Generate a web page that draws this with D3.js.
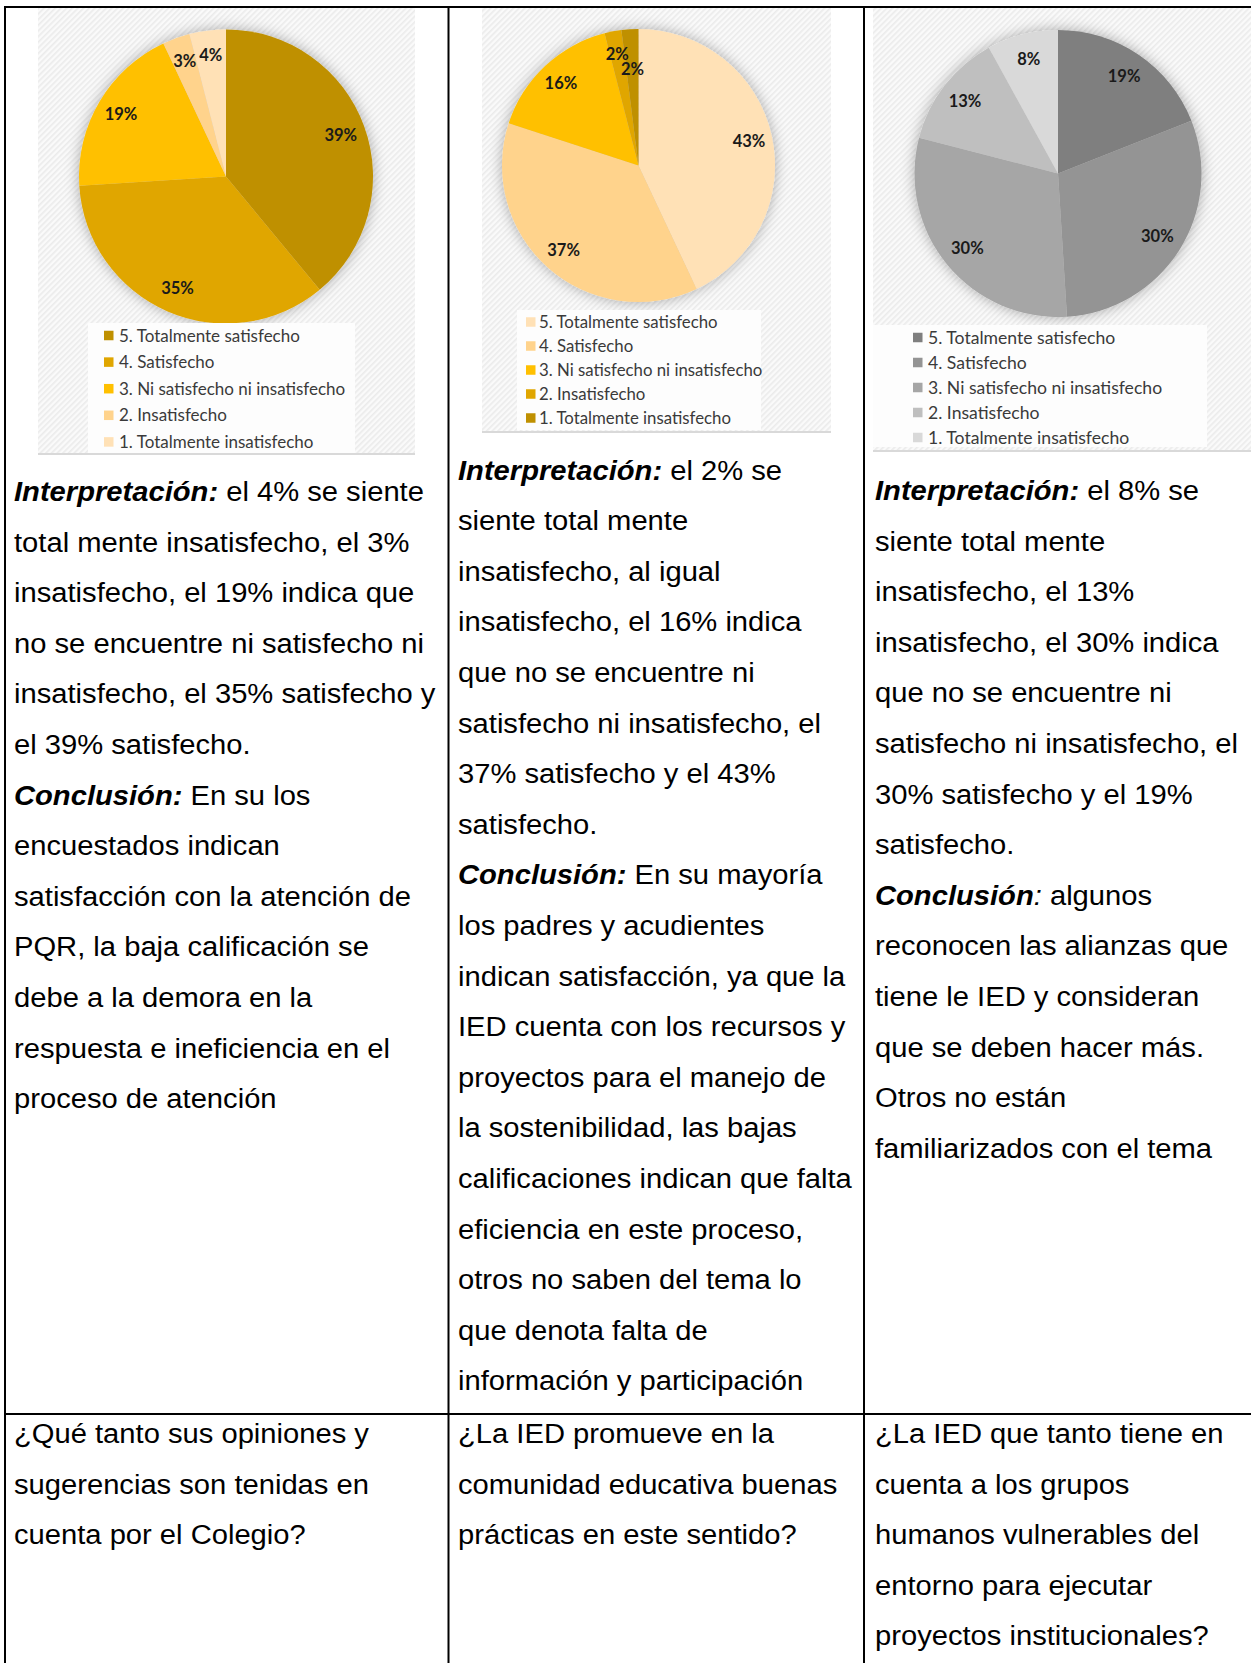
<!DOCTYPE html>
<html><head><meta charset="utf-8">
<script src="https://cdn.jsdelivr.net/npm/d3@7"></script>
<style>body{margin:0;background:#fff}svg{display:block}text{white-space:pre}</style>
</head><body>
<script>
// ---------- DATA ----------
const categories = ["5. Totalmente satisfecho", "4. Satisfecho", "3. Ni satisfecho ni insatisfecho", "2. Insatisfecho", "1. Totalmente insatisfecho"];
const values1 = [39, 35, 19, 3, 4];
const values2 = [43, 37, 16, 2, 2];
const values3 = [19, 30, 30, 13, 8];
const colors1 = ["#BF9000", "#E0A600", "#FFC000", "#FFD38C", "#FFE1B6"];
const colors2 = ["#FFE1B6", "#FFD38C", "#FFC000", "#E0A600", "#BF9000"];
const colors3 = ["#7F7F7F", "#949494", "#A6A6A6", "#BFBFBF", "#D9D9D9"];

const text1 = [
  "**Interpretación:** el 4% se siente",
  "total mente insatisfecho, el 3%",
  "insatisfecho, el 19% indica que",
  "no se encuentre ni satisfecho ni",
  "insatisfecho, el 35% satisfecho y",
  "el 39% satisfecho.",
  "**Conclusión:** En su los",
  "encuestados indican",
  "satisfacción con la atención de",
  "PQR, la baja calificación se",
  "debe a la demora en la",
  "respuesta e ineficiencia en el",
  "proceso de atención"
];
const text2 = [
  "**Interpretación:** el 2% se",
  "siente total mente",
  "insatisfecho, al igual",
  "insatisfecho, el 16% indica",
  "que no se encuentre ni",
  "satisfecho ni insatisfecho, el",
  "37% satisfecho y el 43%",
  "satisfecho.",
  "**Conclusión:** En su mayoría",
  "los padres y acudientes",
  "indican satisfacción, ya que la",
  "IED cuenta con los recursos y",
  "proyectos para el manejo de",
  "la sostenibilidad, las bajas",
  "calificaciones indican que falta",
  "eficiencia en este proceso,",
  "otros no saben del tema lo",
  "que denota falta de",
  "información y participación"
];
const text3 = [
  "**Interpretación:** el 8% se",
  "siente total mente",
  "insatisfecho, el 13%",
  "insatisfecho, el 30% indica",
  "que no se encuentre ni",
  "satisfecho ni insatisfecho, el",
  "30% satisfecho y el 19%",
  "satisfecho.",
  "**Conclusión**_:_ algunos",
  "reconocen las alianzas que",
  "tiene le IED y consideran",
  "que se deben hacer más.",
  "Otros no están",
  "familiarizados con el tema"
];
const question1 = ["¿Qué tanto sus opiniones y", "sugerencias son tenidas en", "cuenta por el Colegio?"];
const question2 = ["¿La IED promueve en la", "comunidad educativa buenas", "prácticas en este sentido?"];
const question3 = ["¿La IED que tanto tiene en", "cuenta a los grupos", "humanos vulnerables del", "entorno para ejecutar", "proyectos institucionales?"];

// ---------- SETUP ----------
const W = 1251, H = 1663;
const svg = d3.select("body").append("svg").attr("width", W).attr("height", H);
const defs = svg.append("defs");
const pat = defs.append("pattern").attr("id", "hatch").attr("width", 4).attr("height", 4)
  .attr("patternUnits", "userSpaceOnUse").attr("patternTransform", "rotate(45)");
pat.append("rect").attr("width", 4).attr("height", 4).attr("fill", "#fafafa");
pat.append("rect").attr("width", 1.6).attr("height", 4).attr("fill", "#ebebeb");
const filt = defs.append("filter").attr("id", "shadow").attr("x", "-25%").attr("y", "-25%").attr("width", "150%").attr("height", "150%");
filt.append("feDropShadow").attr("dx", 0).attr("dy", 0).attr("stdDeviation", 7)
  .attr("flood-color", "#000").attr("flood-opacity", 0.32);

const chartFont = "Lato, 'Noto Sans', sans-serif";

function drawPie(cfg) {
  const g = svg.append("g");
  g.append("rect").attr("x", cfg.area.x).attr("y", cfg.area.y).attr("width", cfg.area.w).attr("height", cfg.area.h)
    .attr("fill", "url(#hatch)");
  g.append("line").attr("x1", cfg.area.x).attr("x2", cfg.area.x + cfg.area.w)
    .attr("y1", cfg.area.y + cfg.area.h).attr("y2", cfg.area.y + cfg.area.h)
    .attr("stroke", "#d9d9d9").attr("stroke-width", 2);

  const data = cfg.values.map((v, i) => ({ v, i }));
  const arcs = d3.pie().sort(null).value(d => d.v)(data);
  const arc = d3.arc().innerRadius(0).outerRadius(cfg.r);
  const pg = g.append("g").attr("transform", `translate(${cfg.cx},${cfg.cy})`);
  const sh = pg.append("g").attr("filter", "url(#shadow)");
  sh.selectAll("path").data(arcs).join("path")
    .attr("d", arc).attr("fill", d => cfg.colors[d.data.i]);

  // labels with simple overlap avoidance (move inward)
  const lr = cfg.r * cfg.labelK;
  const placed = [];
  arcs.forEach(d => {
    const a = (d.startAngle + d.endAngle) / 2;
    const t = pg.append("text").text(d.data.v + "%")
      .attr("font-family", chartFont).attr("font-weight", "bold").attr("font-size", cfg.labelSize)
      .attr("fill", "#1a1a1a").attr("text-anchor", "middle").attr("dy", "0.35em");
    const w = t.node().getComputedTextLength(), h = cfg.labelSize * 0.9;
    let rr = lr, x, y;
    for (let k = 0; k < 80; k++) {
      x = Math.sin(a) * rr; y = -Math.cos(a) * rr;
      const hit = placed.some(p => Math.abs(p.x - x) < (p.w + w) / 2 && Math.abs(p.y - y) < (p.h + h) / 2);
      if (!hit) break;
      rr -= 1;
    }
    t.attr("x", x).attr("y", y);
    placed.push({ x, y, w, h });
  });

  // legend
  const L = cfg.legend;
  g.append("rect").attr("x", L.x).attr("y", L.y).attr("width", L.w).attr("height", L.h).attr("fill", "#fdfdfd");
  categories.forEach((c, i) => {
    const yy = L.y0 + i * L.dy;
    g.append("rect").attr("x", L.sx).attr("y", yy - L.sq / 2).attr("width", L.sq).attr("height", L.sq)
      .attr("fill", cfg.colors[i]);
    g.append("text").attr("x", L.tx).attr("y", yy).attr("dy", "0.36em").text(c)
      .attr("font-family", chartFont).attr("font-size", L.fs).attr("fill", "#3a3a3a");
  });
}

drawPie({
  area: { x: 38, y: 8, w: 377, h: 446 }, cx: 226, cy: 176.5, r: 147,
  values: values1, colors: colors1, labelK: 0.83, labelSize: 16.5,
  legend: { x: 88, y: 323, w: 267, h: 130, y0: 335.5, dy: 26.6, sx: 104, sq: 9.5, tx: 119, fs: 17 }
});
drawPie({
  area: { x: 482, y: 8, w: 349, h: 424 }, cx: 638.5, cy: 165.5, r: 136.5,
  values: values2, colors: colors2, labelK: 0.83, labelSize: 16.5,
  legend: { x: 517, y: 310, w: 244, h: 120, y0: 322, dy: 24, sx: 526, sq: 9.5, tx: 539, fs: 16.8 }
});
drawPie({
  area: { x: 873, y: 8, w: 378, h: 443 }, cx: 1058, cy: 173.5, r: 143.5,
  values: values3, colors: colors3, labelK: 0.82, labelSize: 16.5,
  legend: { x: 873, y: 325, w: 334, h: 122, y0: 337.5, dy: 25, sx: 913, sq: 9.5, tx: 928, fs: 17.6 }
});

// ---------- TABLE TEXT ----------
function segments(line) {
  const out = [];
  const re = /\*\*(.+?)\*\*|_(.+?)_|([^*_]+)/g;
  let m;
  while ((m = re.exec(line)) !== null) {
    if (m[1] !== undefined) out.push({ t: m[1], b: true, i: true });
    else if (m[2] !== undefined) out.push({ t: m[2], b: false, i: true });
    else out.push({ t: m[3], b: false, i: false });
  }
  return out;
}
const bodyFont = "'Liberation Sans', Arial, sans-serif";
function drawLines(lines, x, y0, dy) {
  lines.forEach((line, k) => {
    const t = svg.append("text")
      .attr("transform", `translate(${x},${y0 + k * dy}) scale(1.08,1)`)
      .attr("font-family", bodyFont).attr("font-size", 27).attr("fill", "#000");
    segments(line).forEach(s => {
      t.append("tspan").text(s.t)
        .attr("font-weight", s.b ? "bold" : null)
        .attr("font-style", s.i ? "italic" : null);
    });
  });
}
const LH = 50.6;
drawLines(text1, 14, 501, LH);
drawLines(text2, 458, 479.5, LH);
drawLines(text3, 875, 500, LH);
drawLines(question1, 14, 1443, LH);
drawLines(question2, 458, 1443, LH);
drawLines(question3, 875, 1443, LH);

// ---------- TABLE GRID ----------
const grid = svg.append("g").attr("stroke", "#000").attr("stroke-width", 2);
grid.append("line").attr("x1", 4).attr("x2", W).attr("y1", 7).attr("y2", 7);
grid.append("line").attr("x1", 5).attr("x2", 5).attr("y1", 6).attr("y2", H);
grid.append("line").attr("x1", 448.5).attr("x2", 448.5).attr("y1", 6).attr("y2", H);
grid.append("line").attr("x1", 864).attr("x2", 864).attr("y1", 6).attr("y2", H);
grid.append("line").attr("x1", 4).attr("x2", W).attr("y1", 1414).attr("y2", 1414);
</script>
</body></html>
